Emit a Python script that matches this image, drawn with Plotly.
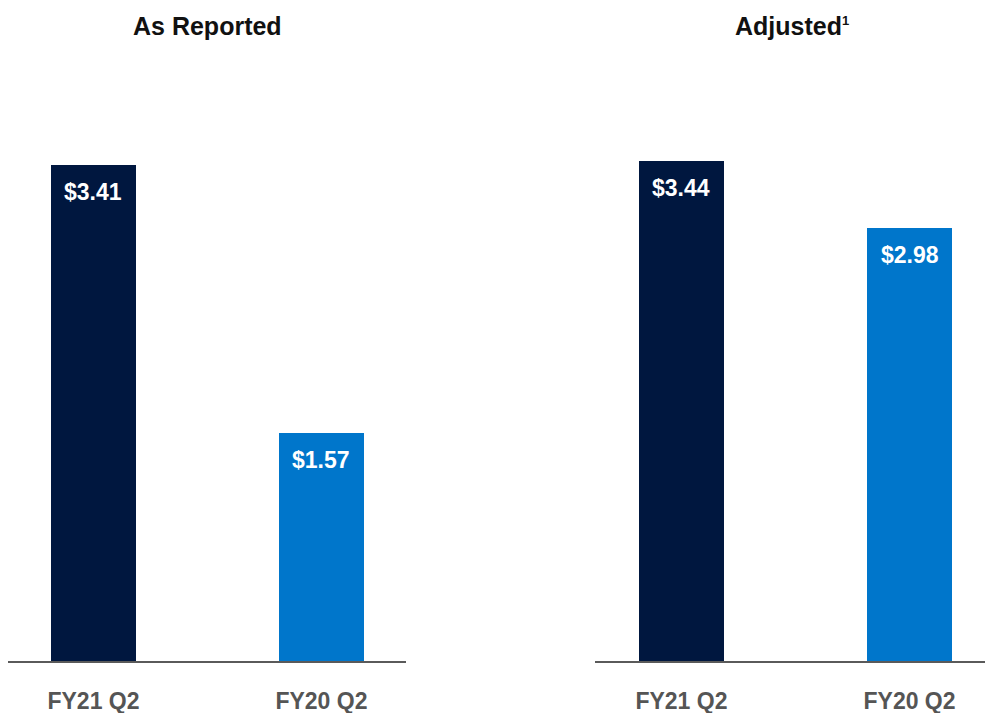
import plotly.graph_objects as go

# Earnings per share, reported vs adjusted
categories = ["FY21 Q2", "FY20 Q2"]
reported = [3.41, 1.57]
adjusted = [3.44, 2.98]
panel_titles = ["As Reported", "Adjusted<sup><span style='font-size:13px'>1</span></sup>"]
bar_colors = ["#00173F", "#0076CB"]

FONT = "Liberation Sans, Arial, sans-serif"
W, H = 985, 713

fig = go.Figure()

panels = [("x", "y", reported), ("x2", "y2", adjusted)]
for xa, ya, vals in panels:
    fig.add_trace(go.Bar(
        x=[0, 1], y=vals, xaxis=xa, yaxis=ya,
        marker=dict(color=bar_colors, line=dict(width=0)),
        width=0.373, showlegend=False, hoverinfo="skip",
    ))
    for i, v in enumerate(vals):
        fig.add_annotation(
            x=i, y=v, xref=xa, yref=ya, text=f"<b>${v:.2f}</b>",
            showarrow=False, yanchor="top", yshift=-12, xanchor="center",
            font=dict(family=FONT, size=23, color="white"),
        )

base = 661
ydom = [(H - base) / H, 1]
yrange = [0, base / 145.4]

axis_common = dict(
    showgrid=False, zeroline=False, showline=True, linecolor="#5a5a5a",
    linewidth=2, ticks="", tickmode="array", tickvals=[0, 1],
    ticktext=[f"<b>{c}</b>" for c in categories],
    tickfont=dict(family=FONT, size=23, color="#555555"),
    ticklabelstandoff=18, fixedrange=True,
)
fig.update_layout(
    width=W, height=H,
    margin=dict(l=0, r=0, t=0, b=0),
    paper_bgcolor="white", plot_bgcolor="white",
    xaxis=dict(domain=[8 / W, 406 / W], range=[-0.375, 1.371], **axis_common),
    xaxis2=dict(domain=[595 / W, 1], range=[-0.379, 1.331], **axis_common),
    yaxis=dict(domain=ydom, range=yrange, visible=False),
    yaxis2=dict(domain=ydom, range=yrange, visible=False, anchor="x2"),
    bargap=0,
)

for cx, title in zip([207, 792], panel_titles):
    fig.add_annotation(
        x=cx / W, y=1 - 26 / H, xref="paper", yref="paper",
        text=f"<b>{title}</b>", showarrow=False, yanchor="middle",
        xanchor="center",
        font=dict(family=FONT, size=25, color="#111111"),
    )

fig.write_html("out.html")
